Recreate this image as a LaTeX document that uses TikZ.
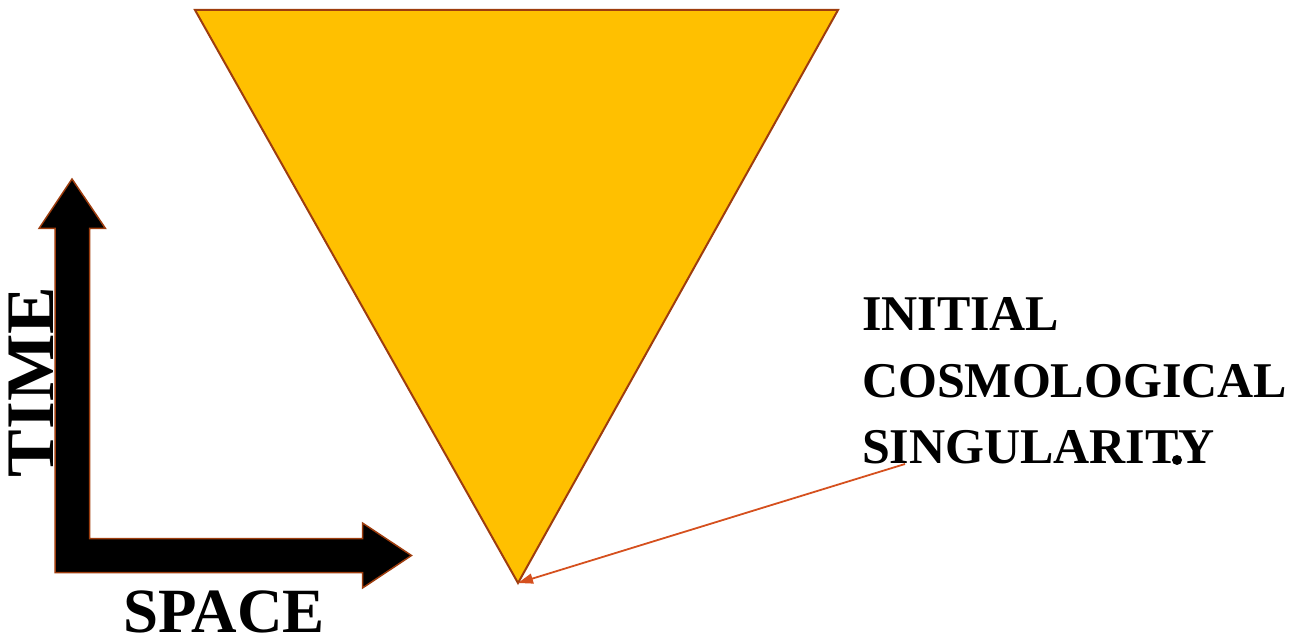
\documentclass[tikz,border=0pt]{standalone}
\usepackage{fontspec}
\setmainfont{Liberation Serif}
\usetikzlibrary{arrows.meta}
\definecolor{gold}{HTML}{FFC000}
\definecolor{edge}{HTML}{9E3D0E}
\definecolor{pointer}{HTML}{D5501E}
\tikzset{
  lbl/.style={inner sep=0pt, outer sep=0pt, font=\bfseries\fontsize{50}{60}\selectfont, anchor=base west},
  axislbl/.style={inner sep=0pt, outer sep=0pt, anchor=base west},
  axisarrow/.style={fill=black, draw=edge, line width=1.5pt, line join=miter},
  cone/.style={fill=gold, draw=edge, line width=2pt, line join=miter},
  pointerline/.style={draw=pointer, line width=1.8pt, -{Triangle[length=15pt,width=10pt]}}
}
\begin{document}
\begin{tikzpicture}[x=1pt,y=-1pt]
\useasboundingbox (0,0) rectangle (1307,639);
% light cone
\coordinate (tl) at (195,10);
\coordinate (tr) at (838,10);
\coordinate (tip) at (518,583);
\path[cone] (tl) -- (tr) -- (tip) -- cycle;
% L-shaped axes arrow
\path[axisarrow] (72,179) -- (105.5,228.5) -- (89.5,228.5) -- (89.5,538.5)
  -- (362.5,538.5) -- (362.5,523) -- (411.5,555.5) -- (362.5,588) -- (362.5,572.5)
  -- (55,572.5) -- (55,228.5) -- (39,228.5) -- cycle;
% axis labels
\node[axislbl, rotate=90, font=\bfseries\fontsize{68}{68}\selectfont] (time) at (53,477) {\scalebox{1.05}[1]{TIME}};
\node[axislbl, text depth=0pt, font=\bfseries\fontsize{63}{63}\selectfont] (space) at (123,632) {SPACE};
% singularity label
\node[lbl] (l1) at (862,330) {INITIAL};
\node[lbl] (l2) at (862,397) {COSMOLOGICAL};
\node[lbl] (l3) at (862,463) {SINGULARITY};
\fill (1177,460) circle (5);
\coordinate (from) at (905,464);
\draw[pointerline] (from) -- (tip);
\end{tikzpicture}
\end{document}
